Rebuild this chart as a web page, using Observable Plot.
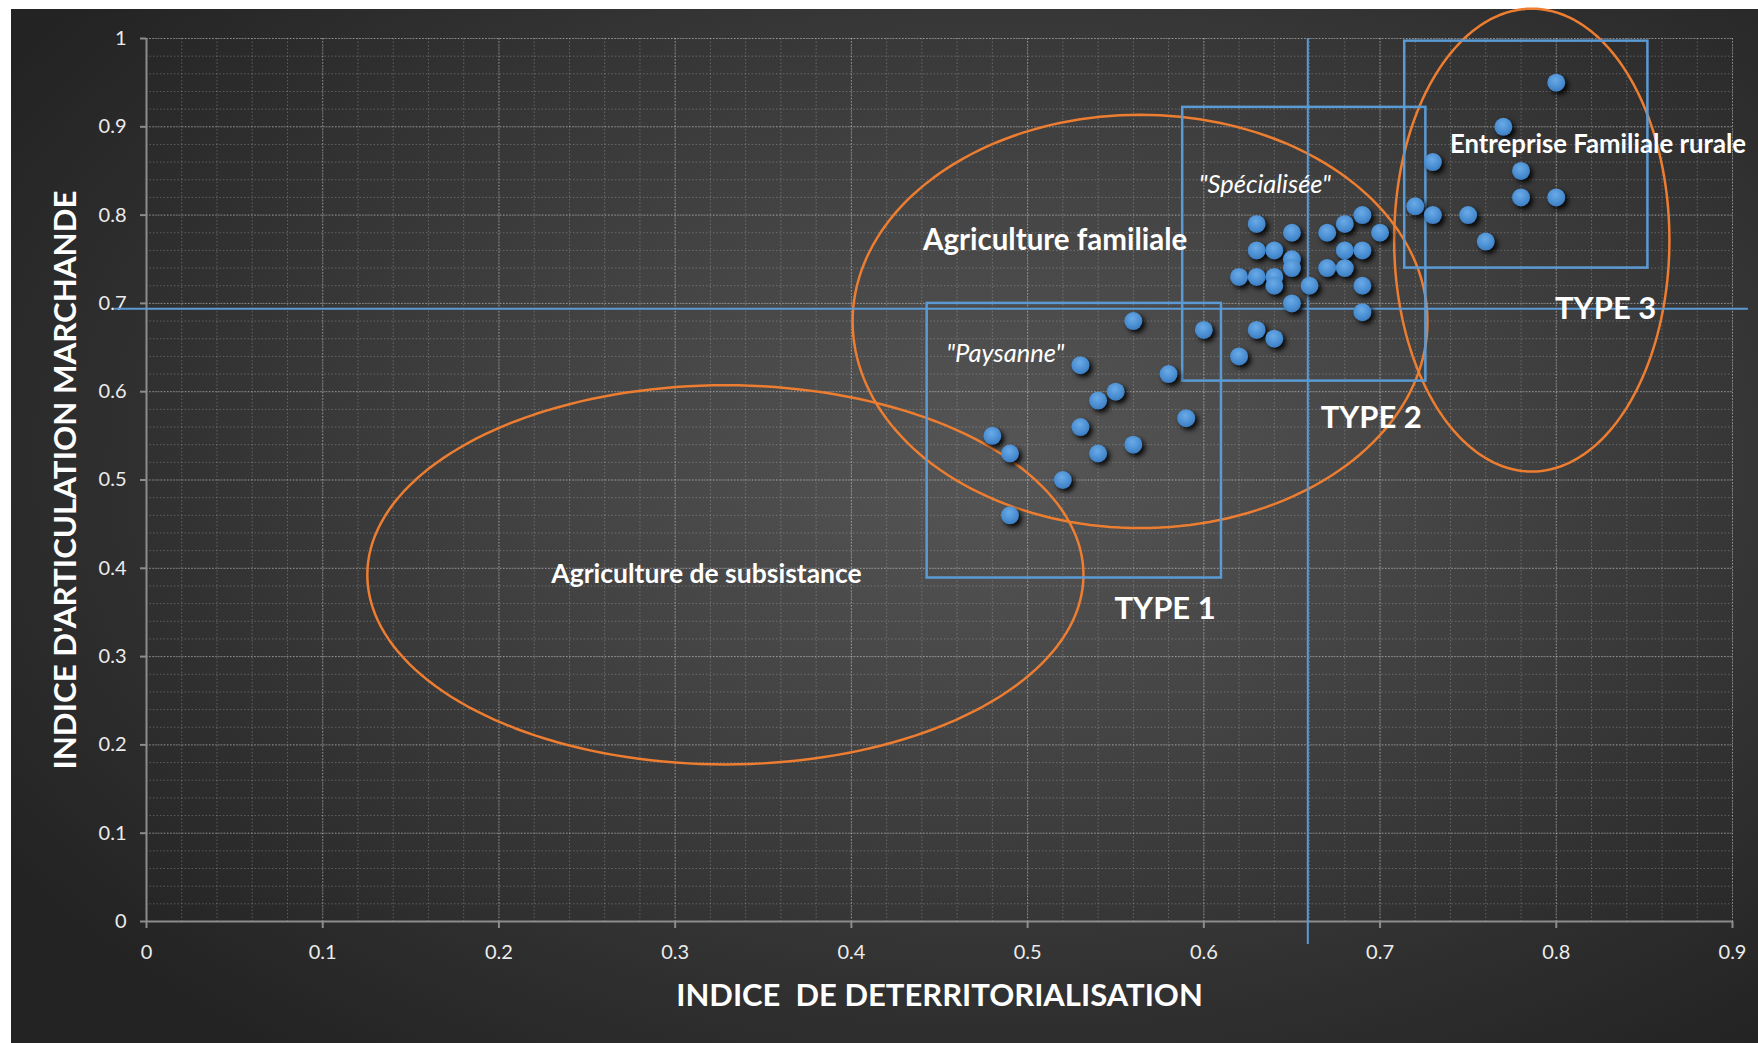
<!DOCTYPE html>
<html>
<head>
<meta charset="utf-8">
<script src="https://cdn.jsdelivr.net/npm/d3@7"></script>
<script src="https://cdn.jsdelivr.net/npm/@observablehq/plot@0.6"></script>
<style>
  html, body { margin: 0; padding: 0; background: #ffffff; }
  #panel {
    position: absolute; left: 11px; top: 9px; width: 1747px; height: 1034px;
    background: radial-gradient(ellipse 68% 72% at 57% 44%, #565656 0%, #454545 35%, #2f2f2f 75%, #232323 100%);
  }
  #chart { position: absolute; left: 0; top: 0; width: 1758px; height: 1043px; }
  #chart svg text { white-space: pre; }
  #chart g[aria-label="dot"] { filter: drop-shadow(3px 3px 2.5px rgba(0,0,0,0.9)); }
</style>
</head>
<body>
<div id="panel"></div>
<div id="chart"></div>
<script>
// ---------- axes ----------
const xTicks = [0, 0.1, 0.2, 0.3, 0.4, 0.5, 0.6, 0.7, 0.8, 0.9];
const xTickLabels = ["0", "0.1", "0.2", "0.3", "0.4", "0.5", "0.6", "0.7", "0.8", "0.9"];
const yTicks = [0, 0.1, 0.2, 0.3, 0.4, 0.5, 0.6, 0.7, 0.8, 0.9, 1];
const yTickLabels = ["0", "0.1", "0.2", "0.3", "0.4", "0.5", "0.6", "0.7", "0.8", "0.9", "1"];
const xTitle = "INDICE  DE DETERRITORIALISATION";
const yTitle = "INDICE D'ARTICULATION MARCHANDE";

// ---------- exploitations (points) ----------
const farmX = [
  0.80, 0.77, 0.73, 0.78, 0.78, 0.80, 0.72, 0.73, 0.75, 0.76,
  0.70, 0.69, 0.68, 0.67, 0.69, 0.68, 0.67, 0.68, 0.69, 0.69,
  0.66, 0.65, 0.65, 0.65, 0.65, 0.64, 0.64, 0.64, 0.63, 0.63,
  0.63, 0.62,
  0.56, 0.60, 0.63, 0.64, 0.62, 0.53, 0.58, 0.55, 0.54, 0.59,
  0.53, 0.48, 0.49, 0.56, 0.54, 0.52, 0.49
];
const farmY = [
  0.95, 0.90, 0.86, 0.85, 0.82, 0.82, 0.81, 0.80, 0.80, 0.77,
  0.78, 0.80, 0.79, 0.78, 0.76, 0.76, 0.74, 0.74, 0.72, 0.69,
  0.72, 0.78, 0.75, 0.74, 0.70, 0.76, 0.73, 0.72, 0.79, 0.76,
  0.73, 0.73,
  0.68, 0.67, 0.67, 0.66, 0.64, 0.63, 0.62, 0.60, 0.59, 0.57,
  0.56, 0.55, 0.53, 0.54, 0.53, 0.50, 0.46
];

// ---------- types (boxes) ----------
const typeNames = ["TYPE 1", "TYPE 2", "TYPE 3"];
const typeX1 = [0.443, 0.588, 0.714];
const typeX2 = [0.610, 0.726, 0.852];
const typeY1 = [0.389, 0.612, 0.740];
const typeY2 = [0.700, 0.922, 0.997];
const typeLabelX = [0.578, 0.695, 0.828];
const typeLabelY = [0.354, 0.570, 0.694];

// ---------- zones (ellipses) ----------
const zoneNames = ["Agriculture de subsistance", "Agriculture familiale", "Entreprise Familiale rurale"];
const zoneCX = [0.3285, 0.5638, 0.7861];
const zoneCY = [0.3926, 0.6796, 0.7717];
const zoneRX = [0.2032, 0.1631, 0.0781];
const zoneRY = [0.2147, 0.2340, 0.2621];
const zoneLabelX = [0.2297, 0.4406, 0.7397];
const zoneLabelY = [0.3935, 0.7712, 0.8799];

// ---------- sub-types ----------
const subNames = ["\"Paysanne\"", "\"Spécialisée\""];
const subX = [0.4873, 0.6346];
const subY = [0.6431, 0.8347];

// ---------- threshold lines ----------
const thresholdX = 0.659;
const thresholdY = 0.694;
const thresholdXSpan = [-0.026, 1.0];   // y extent of vertical line
const thresholdYSpan = [-0.018, 0.909]; // x extent of horizontal line

// ---------- build tables ----------
const farms = farmX.map((x, i) => ({x, y: farmY[i]}));
const types = typeNames.map((name, i) => ({name, x1: typeX1[i], x2: typeX2[i], y1: typeY1[i], y2: typeY2[i], lx: typeLabelX[i], ly: typeLabelY[i]}));
const zones = zoneNames.map((name, i) => ({name, cx: zoneCX[i], cy: zoneCY[i], rx: zoneRX[i], ry: zoneRY[i], lx: zoneLabelX[i], ly: zoneLabelY[i]}));
const zoneOutline = zones.flatMap(z => d3.range(0, 180).map(k => {
  const t = (k / 180) * 2 * Math.PI;
  return {name: z.name, x: z.cx + z.rx * Math.cos(t), y: z.cy + z.ry * Math.sin(t)};
}));
const subs = subNames.map((name, i) => ({name, x: subX[i], y: subY[i]}));
const minorX = d3.range(0, 0.9001, 0.02);
const minorY = d3.range(0, 1.0001, 0.02);

const BLUE = "#5b9bd5";
const ORANGE = "#ed7d31";
const FONT = "Lato, 'Open Sans', sans-serif";

const chart = Plot.plot({
  width: 1758,
  height: 1043,
  marginLeft: 146,
  marginRight: 26,
  marginTop: 38,
  marginBottom: 122,
  style: {background: "transparent", color: "#ececec", fontFamily: FONT, fontSize: "20px"},
  x: {domain: [0, 0.9], ticks: xTicks, tickFormat: (d) => xTickLabels[xTicks.indexOf(d)], tickSize: 7, tickPadding: 16, label: null},
  y: {domain: [0, 1], ticks: yTicks, tickFormat: (d) => yTickLabels[yTicks.indexOf(d)], tickSize: 6, tickPadding: 14, label: null},
  marks: [
    Plot.ruleX(minorX, {stroke: "#d0d0d0", strokeOpacity: 0.3, strokeWidth: 1, strokeDasharray: "1.5,2"}),
    Plot.ruleY(minorY, {stroke: "#d0d0d0", strokeOpacity: 0.3, strokeWidth: 1, strokeDasharray: "1.5,2"}),
    Plot.ruleX(xTicks, {stroke: "#e0e0e0", strokeOpacity: 0.42, strokeWidth: 1, strokeDasharray: "1.5,1.5"}),
    Plot.ruleY(yTicks, {stroke: "#e0e0e0", strokeOpacity: 0.42, strokeWidth: 1, strokeDasharray: "1.5,1.5"}),
    Plot.ruleY([0], {stroke: "#8c8c8c", strokeWidth: 2}),
    Plot.ruleX([0], {stroke: "#8c8c8c", strokeWidth: 2}),
    Plot.line(zoneOutline, {x: "x", y: "y", z: "name", curve: "linear-closed", stroke: ORANGE, strokeWidth: 2.5}),
    Plot.rect(types, {x1: "x1", x2: "x2", y1: "y1", y2: "y2", fill: "none", stroke: BLUE, strokeWidth: 2.5}),
    Plot.ruleX([thresholdX], {y1: thresholdXSpan[0], y2: thresholdXSpan[1], stroke: BLUE, strokeWidth: 2}),
    Plot.ruleY([thresholdY], {x1: thresholdYSpan[0], x2: thresholdYSpan[1], stroke: BLUE, strokeWidth: 2}),
    Plot.dot(farms, {x: "x", y: "y", r: 9, fill: "url(#dotGrad)", stroke: "none"}),
    Plot.text(zones.slice(0, 1), {x: "lx", y: "ly", text: "name", textAnchor: "start", fill: "white", fontWeight: "bold", fontSize: 26.5}),
    Plot.text(zones.slice(1, 2), {x: "lx", y: "ly", text: "name", textAnchor: "start", fill: "white", fontWeight: "bold", fontSize: 29.5}),
    Plot.text(zones.slice(2, 3), {x: "lx", y: "ly", text: "name", textAnchor: "start", fill: "white", fontWeight: "bold", fontSize: 25.7}),
    Plot.text(subs, {x: "x", y: "y", text: "name", textAnchor: "middle", fill: "white", fontStyle: "italic", fontSize: 25.5}),
    Plot.text(types, {x: "lx", y: "ly", text: "name", textAnchor: "middle", fill: "white", fontWeight: "bold", fontSize: 31}),
    Plot.text([xTitle], {frameAnchor: "bottom", dy: 75, textAnchor: "middle", lineAnchor: "middle", text: d => d, fill: "white", fontWeight: "bold", fontSize: 31}),
    Plot.text([yTitle], {frameAnchor: "left", dx: -81, rotate: -90, textAnchor: "middle", lineAnchor: "middle", text: d => d, fill: "white", fontWeight: "bold", fontSize: 31.3})
  ]
});

// gradient for the dots
const ns = "http://www.w3.org/2000/svg";
const defs = document.createElementNS(ns, "defs");
defs.innerHTML = `<radialGradient id="dotGrad" cx="45%" cy="35%" r="70%">
  <stop offset="0%" stop-color="#6aaae6"/>
  <stop offset="60%" stop-color="#4b8fd3"/>
  <stop offset="100%" stop-color="#3a78bd"/>
</radialGradient>`;
chart.insertBefore(defs, chart.firstChild);

// axis lines/ticks grey, labels light
chart.querySelectorAll('[aria-label^="x-axis"] line, [aria-label^="x-axis"] path, [aria-label^="y-axis"] line, [aria-label^="y-axis"] path')
  .forEach(el => { el.setAttribute("stroke", "#8c8c8c"); el.style.stroke = "#8c8c8c"; el.setAttribute("stroke-width", "2"); });

document.getElementById("chart").appendChild(chart);
</script>
</body>
</html>
